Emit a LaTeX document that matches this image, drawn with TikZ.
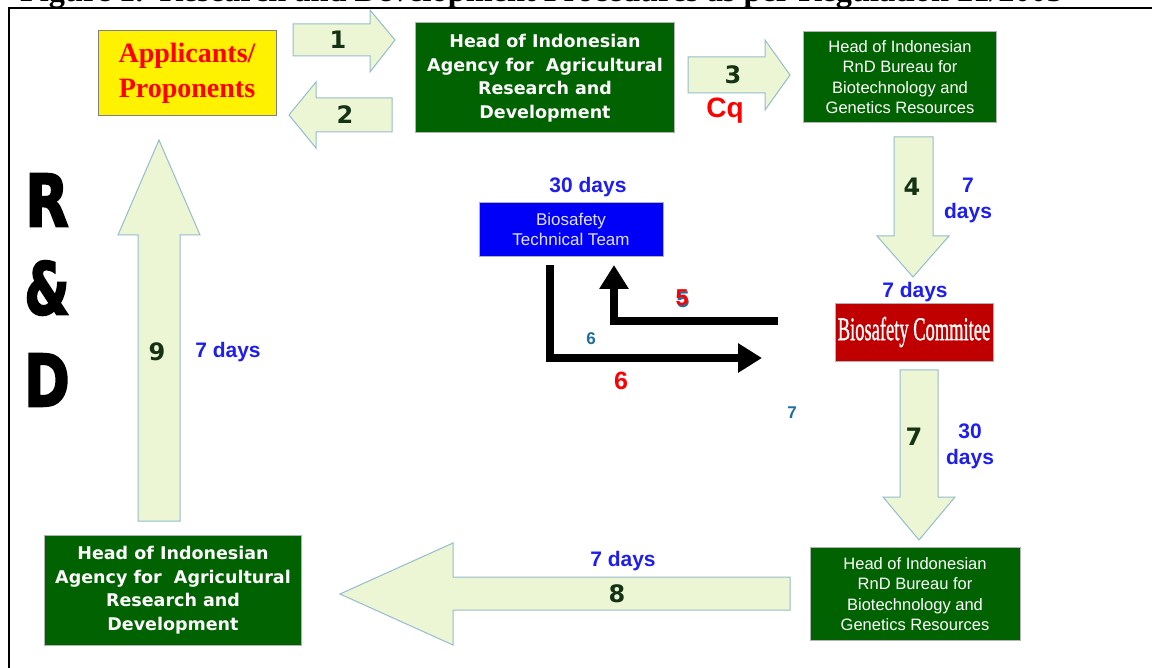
\documentclass[tikz,border=0pt]{standalone}
\usepackage{fontspec}
\setmainfont{Liberation Serif}
\newfontfamily\dvs{DejaVu Sans}
\newfontfamily\las{Liberation Sans}
\newfontfamily\heavy{DejaVu Sans Bold}[FakeBold=3]
\newfontfamily\bcserif{Liberation Serif}[FakeBold=1.2]
\usetikzlibrary{arrows.meta}
\definecolor{dgreen}{RGB}{0,98,0}
\definecolor{afill}{RGB}{236,246,212}
\definecolor{aline}{RGB}{150,188,205}
\definecolor{lblue}{RGB}{30,30,240}
\definecolor{numc}{RGB}{20,50,20}
\definecolor{tealc}{RGB}{30,110,160}
\definecolor{bcred}{RGB}{192,0,0}
\definecolor{bttblue}{RGB}{0,0,250}
\definecolor{ltext}{RGB}{225,225,255}
\begin{document}
\begin{tikzpicture}[x=1pt,y=-1pt,
  blockarrow/.style={fill=afill, draw=aline, line width=1pt, line join=miter},
  gbox/.style={fill=dgreen, draw=gray!60, line width=1pt, text=white, align=center, inner sep=0pt},
  agencytext/.style={font=\dvs\bfseries\fontsize{17.5}{23.5}\selectfont},
  bureautext/.style={font=\las\fontsize{16.5}{20.5}\selectfont},
  num/.style={font=\dvs\bfseries\fontsize{24}{24}\selectfont, text=numc},
  days/.style={font=\las\bfseries\fontsize{21}{26}\selectfont, text=lblue, align=center},
  smallnum/.style={font=\las\bfseries\fontsize{17}{17}\selectfont, text=tealc},
  bigletter/.style={font=\heavy\fontsize{72}{72}\selectfont, text=black},
  blackarrow/.style={line width=8pt, line join=miter, -{Triangle[length=24pt,width=28pt]}}
]
\useasboundingbox (0,0) rectangle (1152,668);
\fill[white] (0,0) rectangle (1152,668);

% title (clipped at top)
\node[anchor=base west, inner sep=0pt, font=\bfseries\fontsize{32.3}{32.3}\selectfont\frenchspacing]
  (title) at (20,2) {Figure 1.\ \ Research and Development Procedures as per Regulation 21/2005};

% frame
\draw[line width=1.3pt] (9,668) -- (9,8) -- (1152,8);

% boxes
\node[fill=yellow, draw=gray, line width=1pt, minimum width=178pt, minimum height=85pt, inner sep=0pt,
  align=center, text=red, font=\bfseries\fontsize{28}{35}\selectfont] (app) at (187,73) {Applicants/\\Proponents};
\node[gbox, agencytext, minimum width=259pt, minimum height=110pt] (ag1) at (545,78)
  {Head of Indonesian\\Agency for\ \ Agricultural\\Research and\\Development};
\node[gbox, bureautext, minimum width=193pt, minimum height=91pt] (bu1) at (900,77)
  {Head of Indonesian\\RnD Bureau for\\Biotechnology and\\Genetics Resources};
\node[fill=bttblue, draw=gray!60, line width=0.8pt, minimum width=184pt, minimum height=54pt, inner sep=0pt,
  align=center, text=ltext, font=\las\fontsize{17}{20}\selectfont] (btt) at (571,229) {Biosafety\\Technical Team};
\node[fill=bcred, draw=gray!60, line width=0.8pt, minimum width=158pt, minimum height=58pt, inner sep=0pt,
  text=white, font=\bcserif\fontsize{33}{33}\selectfont] (bc) at (914,332) {\scalebox{0.56}[1]{Biosafety Commitee}};
\node[gbox, bureautext, minimum width=210pt, minimum height=93pt] (bu2) at (915,594)
  {Head of Indonesian\\RnD Bureau for\\Biotechnology and\\Genetics Resources};
\node[gbox, agencytext, minimum width=257pt, minimum height=110pt] (ag2) at (173,590)
  {Head of Indonesian\\Agency for\ \ Agricultural\\Research and\\Development};

% block arrows
\draw[blockarrow] (293,24) -- (370,24) -- (370,10) -- (395,40) -- (370,72) -- (370,56) -- (293,56) -- cycle;
\draw[blockarrow] (392,98) -- (316,98) -- (316,82) -- (289,115) -- (316,148) -- (316,132) -- (392,132) -- cycle;
\draw[blockarrow] (688,57) -- (765,57) -- (765,40) -- (790,75) -- (765,110) -- (765,93) -- (688,93) -- cycle;
\draw[blockarrow] (894,137) -- (933,137) -- (933,236) -- (949,236) -- (913,277) -- (877,236) -- (894,236) -- cycle;
\draw[blockarrow] (900,370) -- (938,370) -- (938,497) -- (955,497) -- (919,540) -- (883,497) -- (900,497) -- cycle;
\draw[blockarrow] (790,577) -- (453,577) -- (453,543) -- (340,594) -- (453,645) -- (453,610) -- (790,610) -- cycle;
\draw[blockarrow] (138,521) -- (138,235) -- (118,235) -- (159,140) -- (200,235) -- (180,235) -- (180,521) -- cycle;

% labels on block arrows
\node[num] (n1) at (338,40) {1};
\node[num] (n2) at (345,115) {2};
\node[num] (n3) at (733,75) {3};
\node[num] (n4) at (912,187) {4};
\node[num] (n7) at (914,437) {7};
\node[num] (n8) at (617,594) {8};
\node[num] (n9) at (157,352) {9};
\node[font=\las\bfseries\fontsize{28}{28}\selectfont, text=red] (cq) at (725,111) {Cq};

% day labels
\node[days] (d30a) at (588,187) {30 days};
\node[days] (d7a) at (968,200) {7\\days};
\node[days] (d7b) at (915,292) {7 days};
\node[days] (d30b) at (970,446) {30\\days};
\node[days] (d7c) at (623,561) {7 days};
\node[days] (d7d) at (228,352) {7 days};

% black arrows
\coordinate (a5s) at (778,321);
\coordinate (a5m) at (614,321);
\coordinate (a5e) at (614,265);
\draw[blackarrow] (a5s) -- (a5m) -- (a5e);
\coordinate (a6s) at (550,265);
\coordinate (a6m) at (550,358);
\coordinate (a6e) at (762,358);
\draw[blackarrow] (a6s) -- (a6m) -- (a6e);

\node[font=\las\bfseries\fontsize{23}{23}\selectfont, text=tealc] (f5b) at (683,300) {5};
\node[font=\las\bfseries\fontsize{23}{23}\selectfont, text=red] (f5) at (682,298) {5};
\node[smallnum] (s6) at (591,339) {6};
\node[font=\las\bfseries\fontsize{25}{25}\selectfont, text=red] (r6) at (621,381) {6};
\node[smallnum] (s7) at (792,413) {7};

% R & D
\node[bigletter] (R) at (47,200) {\scalebox{0.78}[1]{R}};
\node[bigletter] (amp) at (47,288) {\scalebox{0.72}[1]{\&}};
\node[bigletter] (D) at (47,380) {\scalebox{0.76}[1]{D}};
\end{tikzpicture}
\end{document}
